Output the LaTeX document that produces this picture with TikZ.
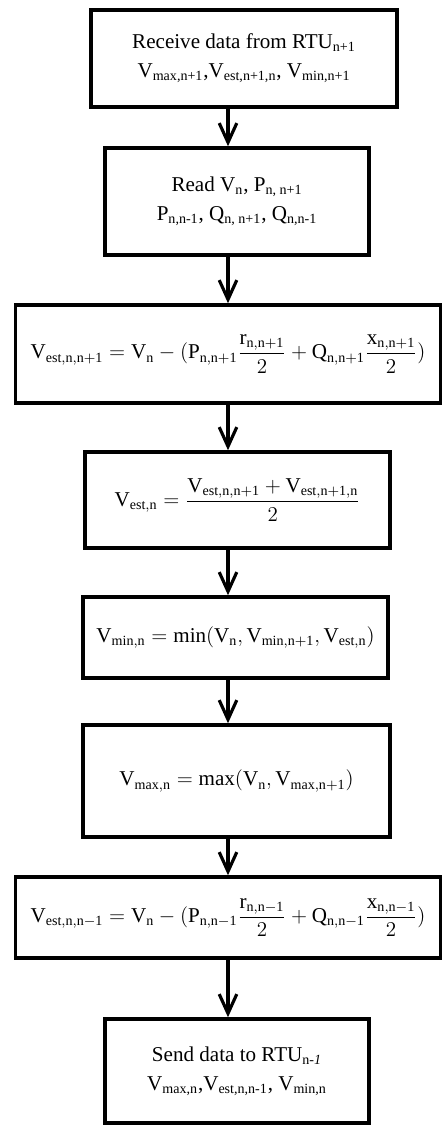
\documentclass[tikz,border=0pt]{standalone}
\usepackage{amsmath}
\usepackage{fontspec}
\setmainfont{Liberation Serif}
\usetikzlibrary{positioning}
\usetikzlibrary{arrows.meta}

\newcommand{\Var}[2]{\mathrm{#1}_{\mathrm{#2}}}

\begin{document}
\begin{tikzpicture}[x=0.02cm,y=-0.02cm,
		stepbox/.style={
			draw,
			line width=2pt,
			align=center,
			inner sep=0pt,
			font=\fontsize{12}{16.5}\selectfont,
		},
		flow/.style={-{Straight Barb[length=11pt,width=10pt]}, line width=1.8pt}]
		\useasboundingbox (0,0) rectangle (444,1128);
		\coordinate (spine) at (228,0);
		
		\node[stepbox, minimum width=6.12cm, minimum height=1.94cm] (recv) at (244,58.5)
			{Receive data from RTU\textsubscript{n+1}\\
			 V\textsubscript{max,n+1},V\textsubscript{est,n+1,n}, V\textsubscript{min,n+1}};
		\node[stepbox, minimum width=5.28cm, minimum height=2.14cm] (read) at (237,201.5)
			{Read V\textsubscript{n}, P\textsubscript{n, n+1}\\
			 P\textsubscript{n,n-1}, Q\textsubscript{n, n+1}, Q\textsubscript{n,n-1}};
		\node[stepbox, minimum width=8.5cm, minimum height=1.96cm] (estfwd) at (228,354)
			{$\Var{V}{est,n,n+1} = \Var{V}{n} - (\Var{P}{n,n+1}\dfrac{\Var{r}{n,n+1}}{2} + \Var{Q}{n,n+1}\dfrac{\Var{x}{n,n+1}}{2})$};
		\node[stepbox, minimum width=6.1cm, minimum height=1.92cm] (estavg) at (237.5,500)
			{$\Var{V}{est,n} = \dfrac{\Var{V}{est,n,n+1} + \Var{V}{est,n+1,n}}{2}$};
		\node[stepbox, minimum width=6.1cm, minimum height=1.62cm] (vmin) at (235.5,637.5)
			{$\Var{V}{min,n} = \mathrm{min}(\Var{V}{n}, \Var{V}{min,n+1}, \Var{V}{est,n})$};
		\node[stepbox, minimum width=6.14cm, minimum height=2.24cm] (vmax) at (236.5,781)
			{$\Var{V}{max,n} = \mathrm{max}(\Var{V}{n}, \Var{V}{max,n+1})$};
		\node[stepbox, minimum width=8.5cm, minimum height=1.62cm] (estbwd) at (228,917.5)
			{$\Var{V}{est,n,n-1} = \Var{V}{n} - (\Var{P}{n,n-1}\dfrac{\Var{r}{n,n-1}}{2} + \Var{Q}{n,n-1}\dfrac{\Var{x}{n,n-1}}{2})$};
		\node[stepbox, minimum width=5.28cm, minimum height=2.08cm] (send) at (237,1071)
			{Send data to RTU\textsubscript{n-\textit{1}}\\
			 V\textsubscript{max,n},V\textsubscript{est,n,n-1}, V\textsubscript{min,n}};
		
		\foreach \a/\b in {recv/read, read/estfwd, estfwd/estavg, estavg/vmin, vmin/vmax, vmax/estbwd, estbwd/send}
			\draw[flow] (\a.south -| spine) -- (\b.north -| spine);
	\end{tikzpicture}
\end{document}
